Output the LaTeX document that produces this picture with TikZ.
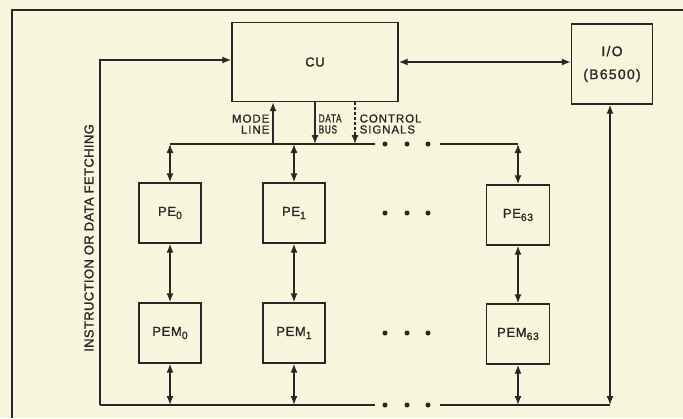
\documentclass[tikz,border=0pt]{standalone}
\usepackage{fontspec}
\setmainfont{Liberation Sans}
\newfontfamily\letr[LetterSpace=5,FakeBold=1.2]{Liberation Sans}
\usetikzlibrary{arrows.meta}
\definecolor{paper}{RGB}{248,246,220}
\definecolor{ink}{RGB}{40,40,40}
\newcommand{\sbs}[1]{\raisebox{-0.45ex}{\fontsize{10.5}{10.5}\selectfont #1}}
\newcommand{\nar}[1]{\scalebox{0.72}[1]{#1}}
\begin{document}
\begin{tikzpicture}[x=1pt, y=-1pt, line width=1.4pt, draw=ink, text=ink,
		>={Latex[length=9pt,width=7pt]},
		box/.style={draw=ink, rectangle, inner sep=0pt, minimum width=62pt, minimum height=60pt, font=\letr\fontsize{13}{15}\selectfont},
		lab/.style={inner sep=0pt, font=\letr\addfontfeatures{LetterSpace=8}\fontsize{11.5}{11}\selectfont}]
		\fill [paper] (0,0) rectangle (683,418);
		\useasboundingbox (0,0) rectangle (683,418);
		\draw [line width=1.2pt] (12,418) -- (12,10) -- (683,10);
		\node [box, minimum width=166pt, minimum height=79pt] (cu) at (315,62) {CU};
		\node [box, minimum width=81pt, minimum height=80pt, align=center, font=\letr\addfontfeatures{LetterSpace=9}\fontsize{14}{23}\selectfont] (io) at (612,64) {I/O\\(B6500)};
		\node [box] (pe0) at (170,213) {PE\sbs{0}};
		\node [box] (pe1) at (294,213) {PE\sbs{1}};
		\node [box, minimum width=63pt] (pe63) at (518,215) {PE\sbs{63}};
		\node [box] (pem0) at (170,333) {PEM\sbs{0}};
		\node [box] (pem1) at (294,333) {PEM\sbs{1}};
		\node [box, minimum width=63pt] (pem63) at (518,334) {PEM\sbs{63}};
		\coordinate (tb0) at (170,144);
		\coordinate (tb1) at (294,144);
		\coordinate (tbe) at (375,144);
		\coordinate (tbs) at (440,144);
		\coordinate (tb63) at (518,144);
		\coordinate (ml) at (273,144);
		\coordinate (db) at (315,144);
		\coordinate (cs) at (355,144);
		\coordinate (bl) at (100,405);
		\coordinate (fl) at (100,60);
		\coordinate (bb0) at (170,405);
		\coordinate (bb1) at (294,405);
		\coordinate (bbe) at (375,405);
		\coordinate (bbs) at (440,405);
		\coordinate (bb63) at (518,405);
		\coordinate (bio) at (610,405);
		\draw [->] (bl) -- (fl) -- (fl -| cu.west);
		\draw [<->] (cu.east) -- (io.west |- cu.east);
		\draw (tb0) -- (tbe);
		\draw (tbs) -- (tb63);
		\draw (bl) -- (bbe);
		\draw (bbs) -- (bio);
		\draw [->] (ml) -- (ml |- cu.south);
		\draw [->] (db |- cu.south) -- (db);
		\draw [->, densely dashed] (cs |- cu.south) -- (cs);
		\node [lab, anchor=east, align=right] (mode) at (270,124) {MODE\\LINE};
		\node [lab, anchor=west, align=left] (data) at (318,124) {\nar{DATA}\\\nar{BUS}};
		\node [lab, anchor=west, align=left] (ctrl) at (359,124) {CONTROL\\SIGNALS};
		\node [lab, rotate=90, font=\letr\addfontfeatures{LetterSpace=3}\fontsize{13}{14}\selectfont] (fetch) at (89,238) {INSTRUCTION OR DATA FETCHING};
		\foreach \c in {0,1,63} {
			\draw [<->] (tb\c) -- (pe\c.north);
			\draw [<->] (pe\c.south) -- (pem\c.north);
			\draw [<->] (pem\c.south) -- (bb\c);
		}
		\draw [<->] (io.south -| bio) -- (bio);
		\foreach \y in {144,213,333,405}
			\foreach \x in {385,407,428}
				\fill [ink] (\x,\y) circle (2.5);
	\end{tikzpicture}
\end{document}
